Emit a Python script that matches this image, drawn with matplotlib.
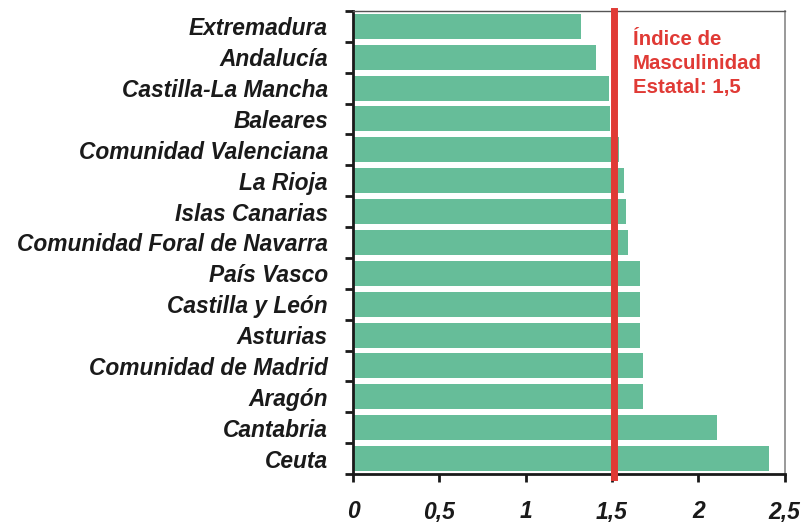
import numpy as np
import matplotlib
matplotlib.use("Agg")
from matplotlib import pyplot as plt
from matplotlib.ticker import FixedLocator

# Índice de masculinidad por comunidad autónoma
regiones = ["Extremadura", "Andalucía", "Castilla-La Mancha", "Baleares",
            "Comunidad Valenciana", "La Rioja", "Islas Canarias",
            "Comunidad Foral de Navarra", "País Vasco", "Castilla y León",
            "Asturias", "Comunidad de Madrid", "Aragón", "Cantabria", "Ceuta"]
indices = [1.32, 1.41, 1.48, 1.49, 1.54, 1.57, 1.58, 1.59,
           1.66, 1.66, 1.66, 1.68, 1.68, 2.11, 2.41]
indice_estatal = 1.51
xticks = [0, 0.5, 1, 1.5, 2, 2.5]

plt.rcParams['font.family'] = ['Liberation Sans', 'DejaVu Sans']

fig = plt.figure(figsize=(8.04, 5.22), dpi=100)
ax = fig.add_axes([0.439, 0.092, 0.537, 0.887])

pos = np.arange(len(regiones))
ax.barh(pos, indices, height=0.81, color='#66bd99', zorder=2)
ax.set_ylim(len(regiones) - 0.5, -0.5)
ax.set_xlim(0, 2.5)

ax.axvline(indice_estatal, ymin=-0.006, ymax=1, color='#e03a35', lw=5,
           zorder=3, clip_on=False)
ax.text(1.62, 0.11, 'Índice de\nMasculinidad\nEstatal: %s' % f'{indice_estatal:.1f}'.replace('.', ','),
        color='#e03a35', fontsize=14.7, fontweight='bold', va='top', ha='left',
        linespacing=1.34)

# labels on the categories, ticks on the boundaries between bars
ax.set_yticks(pos)
ax.set_yticklabels(regiones, fontsize=16.4, fontweight='bold', style='italic', color='#1a1a1a')
ax.yaxis.set_minor_locator(FixedLocator(np.arange(-0.5, len(regiones), 1)))
ax.tick_params(axis='y', which='major', length=0, pad=18)
ax.tick_params(axis='y', which='minor', length=6, width=2, color='#1a1a1a')

ax.set_xticks(xticks)
ax.set_xticklabels([('%g' % t).replace('.', ',') for t in xticks],
                   fontsize=16.5, fontweight='bold', style='italic', color='#1a1a1a')
ax.tick_params(axis='x', length=6, width=2, color='#1a1a1a', pad=13)

ax.spines['left'].set_linewidth(2)
ax.spines['bottom'].set_linewidth(2)
ax.spines['left'].set_color('#1a1a1a')
ax.spines['bottom'].set_color('#1a1a1a')
ax.spines['top'].set_color('#555555')
ax.spines['right'].set_color('#888888')
ax.spines['top'].set_linewidth(1)
ax.spines['right'].set_linewidth(1.2)

fig.savefig('out.png', dpi=100)
